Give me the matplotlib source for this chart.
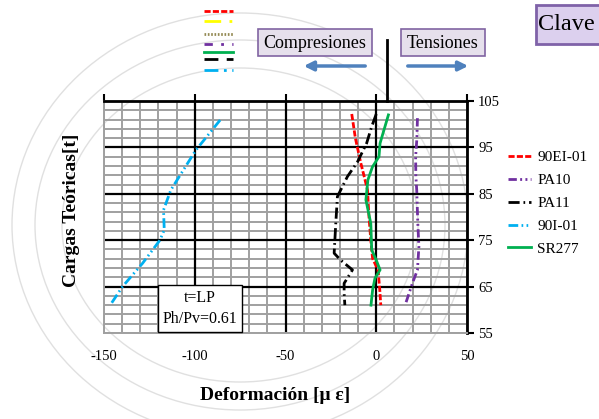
import matplotlib.pyplot as plt
from matplotlib.patches import Rectangle, Ellipse
from matplotlib.lines import Line2D

plt.rcParams['font.family'] = ['Liberation Serif', 'DejaVu Serif']

# strain readings (micro-strain) vs theoretical load (t)
ei01_x = [-13.5, -11.5, -8.5, -6.5, -4.8, -4.0, -3.0, -2.0, 1.0, 2.0, 2.5]
ei01_y = [102.2, 97.0, 91.6, 88.5, 85.8, 80.0, 75.0, 71.0, 68.6, 64.0, 61.0]

pa10_x = [22.7, 22.4, 21.7, 21.8, 22.3, 22.9, 23.5, 22.7, 19.9, 15.9]
pa10_y = [101.3, 97.0, 93.0, 89.0, 85.8, 78.6, 73.6, 68.6, 65.7, 61.0]

pa11_x = [0.0, -2.5, -5.3, -10.3, -15.9, -21.4, -22.3, -23.2, -19.6, -13.1, -17.7, -17.7, -17.3]
pa11_y = [102.2, 99.5, 95.9, 91.9, 88.7, 84.4, 78.6, 72.2, 70.7, 68.6, 65.7, 63.6, 61.0]

i01_x = [-86.0, -99.4, -113.2, -117.2, -116.8, -119.2, -128.8, -139.8, -146.6]
i01_y = [100.9, 94.4, 85.8, 81.5, 77.2, 75.0, 70.0, 65.0, 61.0]

sr277_x = [6.7, 2.1, 1.5, -2.1, -4.6, -5.7, -3.0, -2.5, 0.0, 2.1, -0.7, -2.0, -2.9]
sr277_y = [102.0, 95.9, 93.0, 90.8, 88.0, 83.7, 78.6, 72.9, 70.7, 68.6, 66.8, 64.3, 61.0]

x_ticks = [-150, -100, -50, 0, 50]
y_ticks = [55, 65, 75, 85, 95, 105]

fig = plt.figure(figsize=(5.99, 4.19), dpi=100)

# background layer in pixel coordinates (decorative arcs)
bg = fig.add_axes([0, 0, 1, 1], zorder=0)
bg.set_xlim(0, 599)
bg.set_ylim(419, 0)
bg.axis('off')
for rx, ry in [(228, 212), (205, 185), (178, 157)]:
    bg.add_patch(Ellipse((240, 225), 2 * rx, 2 * ry, fill=False, ec='#E0E0E0', lw=1))

ax = fig.add_axes([104 / 599, 1 - 333 / 419, 363 / 599, 232 / 419], zorder=2)
ax.set_facecolor('none')
ax.set_xlim(-150, 50)
ax.set_ylim(55, 105)

# grid
for xv in range(-150, 51, 10):
    ax.axvline(xv, color='#A0A0A0', lw=1.4, zorder=1)
for yv in range(55, 106, 2):
    ax.axhline(yv, color='#A0A0A0', lw=1.4, zorder=1)
for xv in [-100, -50, 0]:
    ax.axvline(xv, color='black', lw=1.6, zorder=2)
for yv in [65, 75, 85, 95]:
    ax.axhline(yv, color='black', lw=1.6, zorder=2)

lw = 2.0
ax.plot(ei01_x, ei01_y, color='#FF0000', lw=lw, ls=(0, (2.2, 0.8)), label='90EI-01', zorder=4)
ax.plot(pa10_x, pa10_y, color='#7030A0', lw=lw, ls=(0, (3, 1.2, 0.7, 1.2, 0.7, 1.2)), label='PA10', zorder=4)
ax.plot(pa11_x, pa11_y, color='black', lw=lw, ls=(0, (4, 1.4, 0.6, 1.4)), label='PA11', zorder=4)
ax.plot(i01_x, i01_y, color='#00B0F0', lw=lw, ls=(0, (3.5, 1.2, 0.6, 1.2, 0.6, 1.2)), label='90I-01', zorder=4)
ax.plot(sr277_x, sr277_y, color='#00B050', lw=lw, label='SR277', zorder=4)

ax.set_xticks(x_ticks)
ax.set_yticks(y_ticks)
ax.set_xticklabels([str(v) for v in x_ticks])
ax.tick_params(axis='x', bottom=False, top=True, labelbottom=True, labeltop=False,
               direction='out', length=5, width=1.5, pad=7, labelsize=10.5)
ax.tick_params(axis='y', left=False, right=True, labelleft=False, labelright=True,
               direction='out', length=5, width=1.5, pad=3, labelsize=10.5)
for s in ['top', 'right']:
    ax.spines[s].set_color('black')
    ax.spines[s].set_linewidth(2)
for s in ['left', 'bottom']:
    ax.spines[s].set_color('#A0A0A0')
    ax.spines[s].set_linewidth(1.4)

ax.text(-97.2, 60.3, 't=LP\nPh/Pv=0.61', ha='center', va='center', fontsize=11.5,
        linespacing=1.45, zorder=6,
        bbox=dict(boxstyle='square,pad=0.3', fc='white', ec='black', lw=1))

ax.legend(loc='upper left', bbox_to_anchor=(500 / 599, 1 - 143 / 419),
          bbox_transform=fig.transFigure, frameon=False, fontsize=11,
          handlelength=1.5, handletextpad=0.45, labelspacing=0.6, borderpad=0)

fig.text(72 / 599, 1 - 210 / 419, 'Cargas Teóricas[t]', rotation=90, ha='center',
         va='center', fontsize=14, fontweight='bold')
fig.text(275 / 599, 1 - 395 / 419, 'Deformación [μ ε]', ha='center', va='center',
         fontsize=14, fontweight='bold')

# overlay annotations in pixel coordinates
top = fig.add_axes([0, 0, 1, 1], zorder=5)
top.set_facecolor('none')
top.set_xlim(0, 599)
top.set_ylim(419, 0)
top.axis('off')

frags = [(11, '#FF0000', (0, (2.2, 0.8))),
         (21, '#FFFF00', (0, (6, 3, 1, 3))),
         (34, '#948A54', (0, (0.6, 0.6))),
         (44, '#7030A0', (0, (3, 3, 1, 3))),
         (52, '#00B050', '-'),
         (59, 'black', (0, (5, 3))),
         (70, '#00B0F0', (0, (5, 2, 1, 2)))]
for fy, fc, fls in frags:
    top.add_line(Line2D([204, 233], [fy, fy], color=fc, lw=2, ls=fls))

top.plot([387, 387], [40, 101], color='black', lw=2)

top.add_patch(Rectangle((258, 29), 114, 27, fc='#E6E0EC', ec='#8064A2', lw=1.2))
top.text(315, 43, 'Compresiones', ha='center', va='center', fontsize=13)
top.add_patch(Rectangle((401, 29), 84, 27, fc='#E6E0EC', ec='#8064A2', lw=1.2))
top.text(443, 43, 'Tensiones', ha='center', va='center', fontsize=13)
top.add_patch(Rectangle((536, 5), 70, 39, fc='#DCD0EE', ec='#7F62A8', lw=2))
top.text(538, 25, 'Clave', ha='left', va='center', fontsize=17.5)

top.annotate('', xy=(301, 66), xytext=(368, 66),
             arrowprops=dict(arrowstyle='-|>', color='#4F81BD', lw=2.5, mutation_scale=14))
top.annotate('', xy=(471, 66), xytext=(405, 66),
             arrowprops=dict(arrowstyle='-|>', color='#4F81BD', lw=2.5, mutation_scale=14))

fig.savefig('out.png', dpi=100)
